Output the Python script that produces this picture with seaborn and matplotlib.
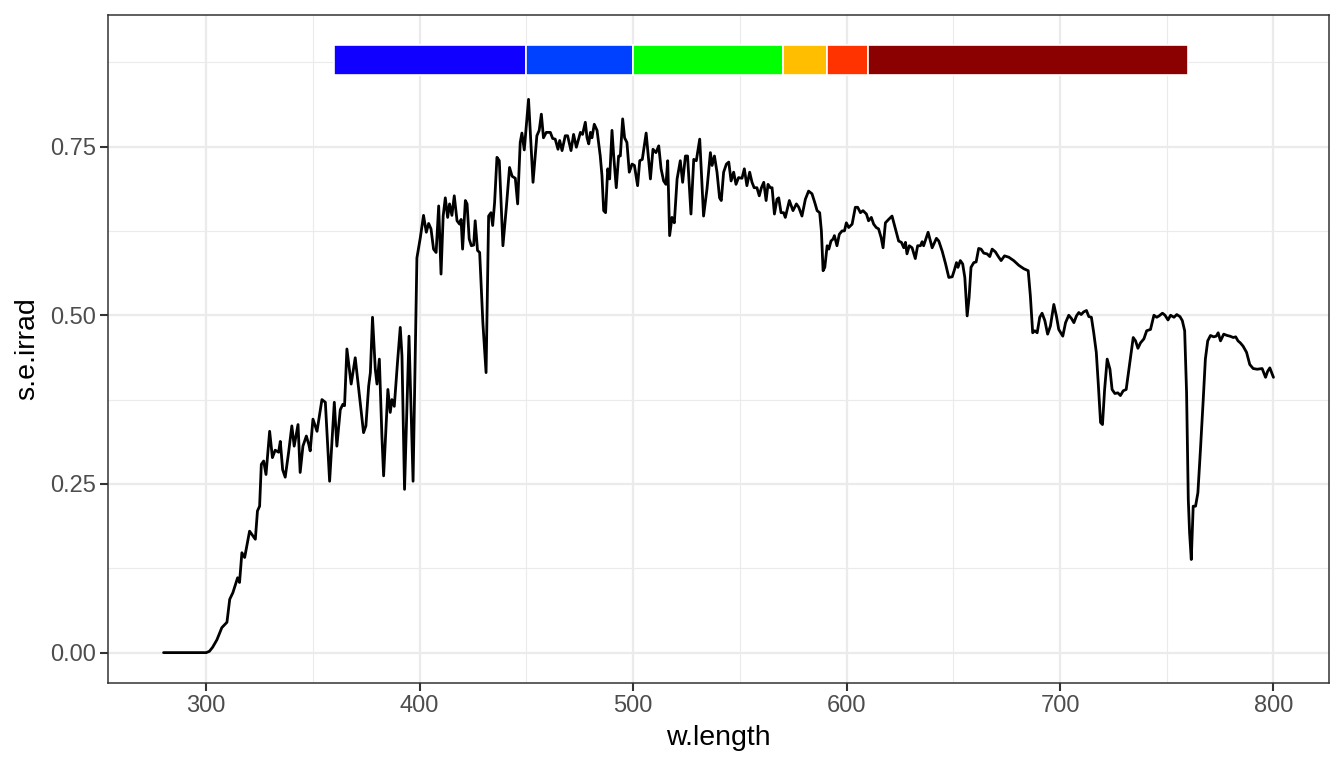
import matplotlib
matplotlib.use("Agg")
from matplotlib import pyplot as plt
from matplotlib.ticker import MultipleLocator
import pandas as pd
import seaborn as sns

# spectrum (wavelength in nm, spectral energy irradiance)
w_length = [
    280.0, 290.0, 300.0, 301.5, 303.0, 305.0, 307.3, 309.7, 311.0, 312.5, 314.7, 315.6,
    316.7, 318.0, 320.3, 323.0, 324.0, 325.0, 325.8, 326.9, 328.0, 329.7, 331.0, 332.3,
    333.9, 334.7, 335.8, 337.0, 338.6, 340.1, 341.2, 343.0, 344.0, 345.3, 346.9, 348.0,
    348.7, 350.0, 351.9, 354.2, 355.8, 357.8, 360.0, 361.2, 362.8, 364.0, 364.8, 365.9,
    367.9, 369.8, 371.8, 373.7, 374.8, 376.1, 376.9, 377.9, 379.2, 380.0, 381.1, 382.3,
    383.1, 385.1, 386.2, 387.0, 388.1, 389.6, 390.9, 391.7, 392.9, 395.0, 396.9, 398.7,
    400.3, 401.8, 403.1, 404.2, 405.3, 406.5, 407.7, 408.9, 410.0, 411.0, 412.0, 413.1,
    414.0, 415.1, 416.2, 417.5, 418.7, 419.4, 420.1, 421.4, 422.2, 423.2, 424.2, 425.3,
    426.0, 427.1, 428.1, 429.6, 431.1, 432.3, 433.4, 434.2, 435.1, 436.2, 437.3, 439.0,
    440.6, 442.1, 443.3, 444.8, 445.9, 447.1, 447.9, 449.0, 451.0, 453.1, 454.9, 456.0,
    457.0, 458.0, 459.3, 461.2, 462.3, 463.5, 464.8, 465.6, 466.7, 468.2, 469.3, 470.9,
    472.1, 473.4, 475.3, 476.3, 477.6, 478.4, 479.2, 480.0, 480.7, 481.8, 483.1, 484.6,
    485.4, 486.2, 487.1, 488.1, 489.0, 490.1, 490.9, 492.1, 493.2, 494.0, 495.1, 496.0,
    497.1, 498.2, 499.5, 500.6, 502.1, 503.1, 504.3, 506.1, 508.1, 509.3, 510.7, 512.0,
    513.1, 514.3, 515.4, 516.2, 517.1, 518.2, 519.3, 520.6, 522.1, 523.2, 524.5, 525.5,
    527.1, 528.4, 529.6, 531.2, 533.0, 534.6, 536.2, 537.0, 538.1, 539.3, 540.5, 541.3,
    542.4, 543.7, 544.8, 545.9, 547.1, 548.2, 549.4, 551.0, 552.1, 553.3, 554.6, 555.7,
    556.7, 558.0, 559.1, 560.1, 561.2, 562.3, 563.2, 564.3, 565.1, 566.2, 567.4, 568.2,
    569.3, 570.5, 571.3, 573.2, 574.9, 576.5, 577.6, 579.1, 580.7, 582.2, 583.8, 585.1,
    586.2, 587.4, 588.2, 589.0, 589.8, 590.9, 591.7, 592.7, 593.7, 594.3, 595.5, 596.6,
    597.9, 599.0, 599.9, 601.0, 602.6, 604.1, 605.2, 606.5, 607.7, 609.3, 610.3, 611.6,
    612.7, 613.9, 615.0, 616.2, 617.1, 618.2, 619.7, 621.3, 622.9, 624.4, 625.7, 626.8,
    627.6, 628.3, 629.4, 630.7, 632.2, 633.3, 634.6, 635.4, 636.1, 638.2, 640.1, 642.1,
    643.2, 644.8, 646.4, 647.9, 649.5, 650.6, 651.5, 652.2, 653.3, 654.4, 655.4, 656.5,
    657.4, 658.3, 659.6, 660.7, 661.9, 663.0, 664.3, 665.8, 667.1, 668.2, 669.7, 671.3,
    672.4, 674.0, 676.0, 678.3, 680.7, 683.0, 685.1, 686.1, 687.2, 688.2, 689.3, 690.5,
    691.6, 692.9, 694.2, 695.5, 697.1, 698.3, 699.4, 701.3, 702.6, 704.1, 705.4, 706.5,
    707.7, 708.8, 709.9, 711.1, 712.4, 713.5, 714.7, 715.8, 717.0, 717.9, 719.0, 719.9,
    720.9, 722.1, 723.4, 724.4, 725.7, 727.1, 728.3, 729.6, 731.0, 732.7, 734.3, 735.4,
    736.5, 737.7, 739.3, 740.6, 742.4, 744.0, 745.3, 746.4, 748.0, 749.2, 750.6, 751.8,
    753.4, 754.7, 756.2, 757.3, 758.4, 759.3, 760.1, 760.7, 761.5, 762.4, 763.5, 764.6,
    765.8, 767.1, 768.1, 769.2, 770.5, 772.0, 773.2, 774.1, 775.2, 776.7, 778.3, 779.6,
    781.2, 782.3, 783.4, 784.5, 785.8, 787.4, 788.9, 790.5, 792.4, 794.7, 796.3, 797.3,
    798.3, 800.0,
]
s_e_irrad = [
    0.000, 0.000, 0.000, 0.002, 0.008, 0.019, 0.037, 0.045, 0.079, 0.089, 0.111, 0.104,
    0.148, 0.141, 0.180, 0.168, 0.210, 0.217, 0.279, 0.284, 0.264, 0.328, 0.289, 0.300,
    0.297, 0.313, 0.271, 0.260, 0.297, 0.336, 0.306, 0.338, 0.267, 0.306, 0.321, 0.309,
    0.299, 0.346, 0.328, 0.375, 0.371, 0.254, 0.371, 0.306, 0.360, 0.368, 0.366, 0.450,
    0.398, 0.437, 0.380, 0.326, 0.336, 0.395, 0.415, 0.497, 0.420, 0.398, 0.435, 0.321,
    0.262, 0.390, 0.356, 0.375, 0.365, 0.430, 0.482, 0.440, 0.242, 0.469, 0.254, 0.585,
    0.615, 0.648, 0.623, 0.636, 0.628, 0.598, 0.593, 0.662, 0.561, 0.647, 0.674, 0.645,
    0.665, 0.648, 0.677, 0.640, 0.635, 0.642, 0.598, 0.670, 0.665, 0.613, 0.603, 0.604,
    0.640, 0.596, 0.593, 0.489, 0.415, 0.647, 0.652, 0.633, 0.667, 0.734, 0.729, 0.603,
    0.660, 0.719, 0.706, 0.703, 0.665, 0.756, 0.770, 0.745, 0.820, 0.697, 0.766, 0.774,
    0.798, 0.763, 0.771, 0.771, 0.762, 0.761, 0.746, 0.759, 0.744, 0.766, 0.766, 0.744,
    0.768, 0.749, 0.771, 0.768, 0.786, 0.763, 0.754, 0.771, 0.763, 0.783, 0.774, 0.736,
    0.707, 0.655, 0.652, 0.717, 0.702, 0.774, 0.736, 0.689, 0.736, 0.736, 0.791, 0.763,
    0.756, 0.712, 0.724, 0.722, 0.692, 0.729, 0.731, 0.770, 0.702, 0.746, 0.741, 0.751,
    0.717, 0.699, 0.694, 0.729, 0.618, 0.645, 0.637, 0.702, 0.729, 0.697, 0.736, 0.736,
    0.650, 0.731, 0.729, 0.761, 0.647, 0.687, 0.741, 0.722, 0.736, 0.712, 0.674, 0.670,
    0.712, 0.724, 0.727, 0.699, 0.712, 0.694, 0.704, 0.703, 0.717, 0.692, 0.712, 0.697,
    0.689, 0.689, 0.677, 0.689, 0.697, 0.670, 0.694, 0.689, 0.689, 0.650, 0.672, 0.674,
    0.652, 0.652, 0.645, 0.670, 0.655, 0.665, 0.660, 0.647, 0.672, 0.684, 0.680, 0.667,
    0.655, 0.652, 0.625, 0.566, 0.571, 0.603, 0.598, 0.610, 0.613, 0.618, 0.603, 0.620,
    0.625, 0.625, 0.637, 0.630, 0.635, 0.660, 0.660, 0.652, 0.655, 0.650, 0.640, 0.645,
    0.635, 0.630, 0.628, 0.615, 0.600, 0.637, 0.642, 0.647, 0.628, 0.610, 0.608, 0.600,
    0.608, 0.591, 0.603, 0.600, 0.584, 0.603, 0.603, 0.609, 0.603, 0.623, 0.600, 0.614,
    0.610, 0.595, 0.576, 0.556, 0.557, 0.568, 0.578, 0.571, 0.581, 0.576, 0.556, 0.499,
    0.526, 0.571, 0.578, 0.579, 0.599, 0.598, 0.592, 0.591, 0.587, 0.598, 0.594, 0.586,
    0.581, 0.588, 0.586, 0.581, 0.574, 0.569, 0.566, 0.529, 0.474, 0.477, 0.474, 0.497,
    0.503, 0.492, 0.472, 0.484, 0.516, 0.499, 0.479, 0.469, 0.489, 0.500, 0.495, 0.489,
    0.499, 0.504, 0.501, 0.505, 0.507, 0.498, 0.497, 0.474, 0.445, 0.400, 0.341, 0.338,
    0.390, 0.435, 0.420, 0.390, 0.384, 0.385, 0.381, 0.388, 0.390, 0.430, 0.467, 0.462,
    0.451, 0.459, 0.465, 0.477, 0.479, 0.500, 0.497, 0.499, 0.503, 0.500, 0.493, 0.500,
    0.497, 0.501, 0.498, 0.492, 0.477, 0.385, 0.227, 0.178, 0.138, 0.217, 0.217, 0.237,
    0.301, 0.375, 0.435, 0.462, 0.470, 0.468, 0.469, 0.474, 0.462, 0.472, 0.470, 0.469,
    0.467, 0.468, 0.462, 0.459, 0.454, 0.445, 0.427, 0.421, 0.420, 0.421, 0.408, 0.417,
    0.422, 0.408,
]

# colour bands on top of the spectrum
band_start = [360, 450, 500, 570, 591, 610]
band_end = [450, 500, 570, 591, 610, 760]
band_colors = ["#1000FF", "#0040FF", "#00FF00", "#FFBF00", "#FF3300", "#8B0000"]
band_bottom = 0.856
band_top = 0.900

df = pd.DataFrame({"w.length": w_length, "s.e.irrad": s_e_irrad})

sns.set_theme(style="white")
plt.rcParams["font.family"] = ["Liberation Sans", "DejaVu Sans"]

fig = plt.figure(figsize=(13.44, 7.68), dpi=100)
ax = fig.add_axes([0.0804, 0.1107, 0.9084, 0.8698])

# grid like theme_bw
ax.set_axisbelow(True)
ax.xaxis.set_major_locator(MultipleLocator(100))
ax.xaxis.set_minor_locator(MultipleLocator(50))
ax.yaxis.set_major_locator(MultipleLocator(0.25))
ax.yaxis.set_minor_locator(MultipleLocator(0.125))
ax.grid(which="major", color="#EBEBEB", linewidth=1.6)
ax.grid(which="minor", color="#EBEBEB", linewidth=0.8)

sns.lineplot(data=df, x="w.length", y="s.e.irrad", color="black",
             linewidth=2.0, sort=False, ax=ax)

mids = [(a + b) / 2 for a, b in zip(band_start, band_end)]
widths = [b - a for a, b in zip(band_start, band_end)]
ax.bar(mids, band_top - band_bottom, width=widths, bottom=band_bottom,
       color=band_colors, edgecolor="white", linewidth=1.2)

ax.set_xlim(254, 826)
ax.set_ylim(-0.045, 0.945)
ax.set_yticks([0, 0.25, 0.5, 0.75])
ax.set_yticklabels(["0.00", "0.25", "0.50", "0.75"])
ax.set_xticks([300, 400, 500, 600, 700, 800])

for side in ax.spines.values():
    side.set_color("#333333")
    side.set_linewidth(1.1)
ax.tick_params(which="major", direction="out", length=5.5, width=1.5,
               color="#333333", labelcolor="#4D4D4D", labelsize=17, pad=3,
               bottom=True, left=True)
ax.tick_params(which="minor", length=0)
ax.set_xlabel("w.length", fontsize=20.5, color="black", labelpad=6)
ax.set_ylabel("s.e.irrad", fontsize=20.5, color="black", labelpad=7)

fig.savefig("out.png", dpi=100)
